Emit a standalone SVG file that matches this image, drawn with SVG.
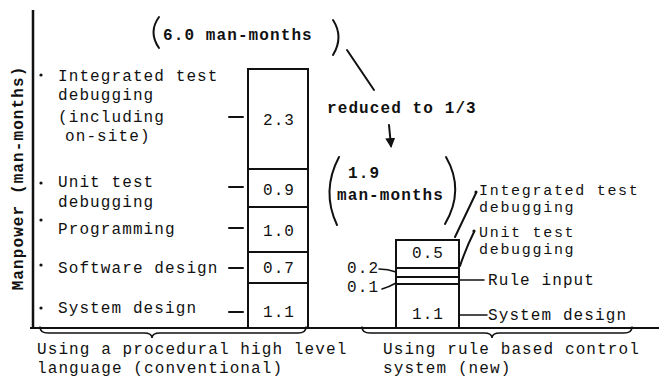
<svg xmlns="http://www.w3.org/2000/svg" width="659" height="379" viewBox="0 0 659 379">
<style>
  text { font-family: "Liberation Mono", "Courier New", monospace; font-size: 16px; letter-spacing: 1.1px; fill: #111; }
  .b { font-weight: bold; }
  .mid { text-anchor: middle; }
  .sm { font-size: 15px; letter-spacing: 1.7px; }
  .box { fill: none; stroke: #111; stroke-width: 2; }
  .ln { fill: none; stroke: #111; stroke-width: 2; stroke-linecap: round; }
  .thin { fill: none; stroke: #111; stroke-width: 1.5; stroke-linecap: round; }
</style>
<defs>
  <marker id="ah" viewBox="0 0 10 10" refX="8" refY="5" markerWidth="5" markerHeight="5" orient="auto">
    <path d="M0,0 L10,5 L0,10 z" fill="#111"/>
  </marker>
</defs>
<rect width="659" height="379" fill="#fff"/>

<g id="axes">
  <line x1="33" y1="10" x2="33" y2="328" stroke="#111" stroke-width="2.5"/>
  <line x1="30" y1="328" x2="659" y2="328" stroke="#111" stroke-width="2"/>
  <text class="b mid" transform="translate(23,178) rotate(-90)">Manpower (man-months)</text>
</g>

<g id="bar-conventional">
  <rect class="box" x="248" y="69" width="60" height="259"/>
  <line class="box" x1="248" y1="169" x2="308" y2="169"/>
  <line class="box" x1="248" y1="207" x2="308" y2="207"/>
  <line class="box" x1="248" y1="252" x2="308" y2="252"/>
  <line class="box" x1="248" y1="283" x2="308" y2="283"/>
  <text class="mid" x="279" y="125">2.3</text>
  <text class="mid" x="279" y="195">0.9</text>
  <text class="mid" x="279" y="236">1.0</text>
  <text class="mid" x="279" y="273">0.7</text>
  <text class="mid" x="279" y="317">1.1</text>
</g>

<g id="labels-conventional">
  <circle cx="41" cy="75" r="1.6" fill="#111"/>
  <circle cx="41" cy="183" r="1.6" fill="#111"/>
  <circle cx="41" cy="220" r="1.6" fill="#111"/>
  <circle cx="41" cy="265" r="1.6" fill="#111"/>
  <circle cx="41" cy="308" r="1.6" fill="#111"/>
  <text x="58" y="81">Integrated test</text>
  <text x="58" y="100">debugging</text>
  <text x="58" y="122">(including</text>
  <text x="65" y="141">on-site)</text>
  <text x="58" y="187">Unit test</text>
  <text x="58" y="207">debugging</text>
  <text x="58" y="234">Programming</text>
  <text x="58" y="273">Software design</text>
  <text x="58" y="313">System design</text>
</g>

<g id="bar-new">
  <rect class="box" x="396" y="240" width="63" height="88"/>
  <line class="box" x1="396" y1="268" x2="459" y2="268"/>
  <line class="box" x1="396" y1="277" x2="459" y2="277"/>
  <line class="box" x1="396" y1="284" x2="459" y2="284"/>
  <text class="mid" x="428" y="258">0.5</text>
  <text class="mid" x="428" y="319">1.1</text>
  <text x="347" y="273">0.2</text>
  <text x="347" y="292">0.1</text>
</g>

<g id="labels-new">
  <text class="sm" x="479" y="195">Integrated test</text>
  <text class="sm" x="479" y="212">debugging</text>
  <text class="sm" x="479" y="237">Unit test</text>
  <text class="sm" x="479" y="254">debugging</text>
  <text x="488" y="285">Rule input</text>
  <text x="488" y="320">System design</text>
</g>

<g id="totals">
  <path class="ln" d="M159,17 Q148,32 159,48"/>
  <text class="b" x="163" y="40">6.0 man-months</text>
  <path class="ln" d="M333,20 Q344,37 333,55"/>
  <text class="b" x="327" y="113">reduced to 1/3</text>
  <path class="ln" d="M339,157 Q321,191 337,225"/>
  <text class="b" x="348" y="178">1.9</text>
  <text class="b" x="337" y="200">man-months</text>
  <path class="ln" d="M446,157 Q465,190 445,224"/>
</g>

<g id="brackets">
  <path class="thin" d="M40,327 Q40,333 48,333 L144,333 Q152,333 152,338 Q152,333 160,333 L298,333 Q306,333 306,327"/>
  <path class="thin" d="M362,327 Q362,333 370,333 L484,333 Q492,333 492,338 Q492,333 500,333 L624,333 Q632,333 632,327"/>
  <text x="37" y="354">Using a procedural high level</text>
  <text x="37" y="373">language (conventional)</text>
  <text x="383" y="354">Using rule based control</text>
  <text x="383" y="373">system (new)</text>
</g>

<g id="connectors">
  <line class="ln" x1="229" y1="117" x2="243" y2="117"/>
  <line class="ln" x1="229" y1="187" x2="243" y2="187"/>
  <line class="ln" x1="229" y1="228" x2="243" y2="228"/>
  <line class="ln" x1="229" y1="268" x2="243" y2="268"/>
  <line class="ln" x1="229" y1="312" x2="243" y2="312"/>
  <line class="ln" x1="347" y1="50" x2="374" y2="90"/>
  <line class="ln" x1="389" y1="125" x2="391" y2="146" marker-end="url(#ah)"/>
  <line class="ln" x1="476" y1="193" x2="455" y2="237"/>
  <circle cx="476" cy="192" r="1.6" fill="#111"/>
  <path class="ln" d="M474,232 Q466,248 460,266"/>
  <circle cx="474" cy="231" r="1.6" fill="#111"/>
  <line class="thin" x1="460" y1="280" x2="484" y2="280"/>
  <line class="thin" x1="460" y1="315" x2="487" y2="315"/>
  <path class="thin" d="M379,269 Q388,269 396,272"/>
  <path class="thin" d="M382,289 Q389,287 396,283"/>
</g>
</svg>
